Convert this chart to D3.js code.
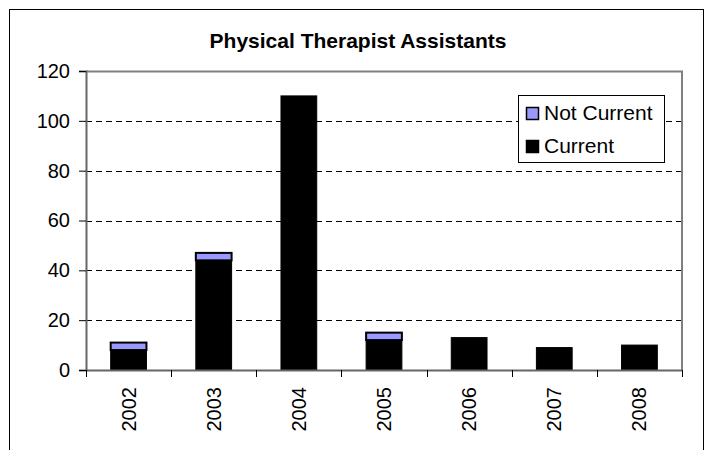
<!DOCTYPE html>
<html>
<head>
<meta charset="utf-8">
<script src="https://cdn.jsdelivr.net/npm/d3@7"></script>
<style>
  body { margin: 0; background: #fff; }
  svg { display: block; font-family: "Liberation Sans", Arial, sans-serif; }
</style>
</head>
<body>
<svg id="chart" width="713" height="450"></svg>
<script>
// chart data
var years = ["2002", "2003", "2004", "2005", "2006", "2007", "2008"];
var current = [8, 44, 110, 12, 13, 9, 10];
var notCurrent = [3, 3, 0, 3, 0, 0, 0];
var yTicks = [0, 20, 40, 60, 80, 100, 120];
var seriesNames = ["Not Current", "Current"];
var seriesColors = ["#9999ff", "#000000"];

var svg = d3.select("#chart");
var margin = {left: 86, right: 31, top: 71, bottom: 80};
var width = 713 - margin.left - margin.right;
var height = 450 - margin.top - margin.bottom;

// outer frame
svg.append("rect")
    .attr("x", 9.5).attr("y", 9.5)
    .attr("width", 694).attr("height", 460)
    .attr("fill", "none").attr("stroke", "#000").attr("stroke-width", 1);

svg.append("text")
    .attr("x", 358).attr("y", 48)
    .style("text-anchor", "middle")
    .style("font-size", "21px")
    .style("font-weight", "bold")
    .text("Physical Therapist Assistants");

var g = svg.append("g").attr("transform", "translate(" + margin.left + "," + margin.top + ")");

var x = d3.scaleBand().domain(years).range([0, width]).paddingInner(0.58).paddingOuter(0.29);
var y = d3.scaleLinear().domain([0, 120]).range([height, 0]);

// gridlines
g.selectAll(".grid").data(yTicks.filter(function(d) { return d > 0 && d < 120; }))
  .enter().append("line")
    .attr("x1", 0).attr("x2", width)
    .attr("y1", function(d) { return Math.round(y(d)) + 0.5; })
    .attr("y2", function(d) { return Math.round(y(d)) + 0.5; })
    .attr("stroke", "#000").attr("stroke-dasharray", "6,4");

// plot border (top + right)
g.append("path")
    .attr("d", "M0,0.5H" + width + "V" + height)
    .attr("fill", "none").attr("stroke", "#808080").attr("stroke-width", 2);

// stacked bars
var data = years.map(function(yr, i) {
  return {year: yr, cur: current[i], not: notCurrent[i]};
});

g.selectAll(".cur").data(data).enter().append("rect")
    .attr("x", function(d) { return x(d.year); })
    .attr("y", function(d) { return y(d.cur); })
    .attr("width", x.bandwidth())
    .attr("height", function(d) { return height - y(d.cur); })
    .attr("fill", seriesColors[1])
    .attr("stroke", "#000").attr("stroke-width", 1);

g.selectAll(".notcur").data(data.filter(function(d) { return d.not > 0; })).enter().append("rect")
    .attr("x", function(d) { return x(d.year); })
    .attr("y", function(d) { return y(d.cur + d.not); })
    .attr("width", x.bandwidth())
    .attr("height", function(d) { return y(d.cur) - y(d.cur + d.not); })
    .attr("fill", seriesColors[0])
    .attr("stroke", "#000").attr("stroke-width", 2);

// y axis
var yAxis = g.append("g")
    .call(d3.axisLeft(y).tickValues(yTicks).tickSize(7).tickPadding(9));
yAxis.select(".domain").attr("stroke", "#666").attr("stroke-width", 2);
yAxis.selectAll("text").style("font-size", "20px").style("font-family", "Liberation Sans, Arial, sans-serif").attr("fill", "#000");

// x axis with ticks at band boundaries
var xAxisG = g.append("g").attr("transform", "translate(0," + height + ")");
xAxisG.append("line").attr("x1", 0).attr("x2", width).attr("y1", 0.5).attr("y2", 0.5)
    .attr("stroke", "#666").attr("stroke-width", 2);
xAxisG.selectAll(".xt").data(d3.range(years.length + 1)).enter().append("line")
    .attr("x1", function(i) { return Math.round(i * width / years.length) + 0.5; })
    .attr("x2", function(i) { return Math.round(i * width / years.length) + 0.5; })
    .attr("y1", 0).attr("y2", 7)
    .attr("stroke", "#000");
xAxisG.selectAll(".xl").data(years).enter().append("text")
    .attr("transform", function(d) {
      return "translate(" + (x(d) + x.bandwidth() / 2 + 7) + ",17) rotate(-90)";
    })
    .style("text-anchor", "end")
    .style("font-size", "20px")
    .text(function(d) { return d; });

// legend
var legend = svg.append("g").attr("transform", "translate(518,95)");
legend.append("rect").attr("x", 0.5).attr("y", 0.5).attr("width", 146).attr("height", 67)
    .attr("fill", "#fff").attr("stroke", "#000");
seriesNames.forEach(function(name, i) {
  legend.append("rect")
      .attr("x", 8.5).attr("y", 12.5 + i * 33)
      .attr("width", 12).attr("height", 12)
      .attr("fill", seriesColors[i]).attr("stroke", "#000").attr("stroke-width", 1.5);
  legend.append("text")
      .attr("x", 26).attr("y", 25 + i * 33)
      .style("font-size", "21px")
      .text(name);
});
</script>
</body>
</html>
